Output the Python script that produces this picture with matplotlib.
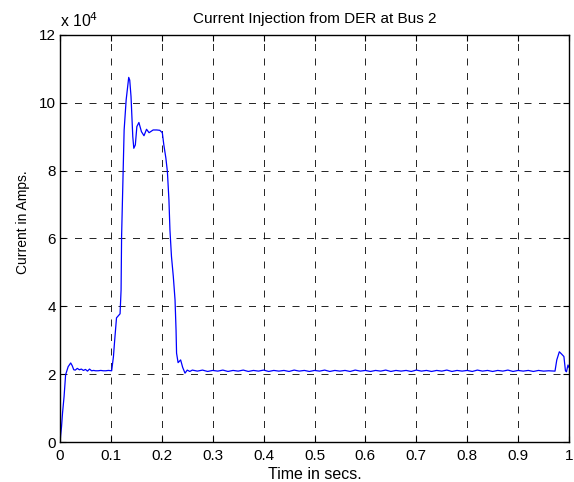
import numpy as np
import matplotlib.pyplot as plt

plt.rcParams['font.family'] = ['Liberation Sans', 'DejaVu Sans']

# time (s) and current (x 1e4 A)
t_start = [0.0, 0.003, 0.005, 0.008, 0.011, 0.016, 0.021, 0.024, 0.027, 0.030,
           0.034, 0.038, 0.042, 0.046, 0.050, 0.054, 0.058, 0.062, 0.066,
           0.070, 0.075, 0.080, 0.085, 0.090, 0.095, 0.1015]
i_start = [0.0, 0.45, 0.86, 1.34, 1.98, 2.22, 2.33, 2.25, 2.13, 2.12,
           2.17, 2.13, 2.15, 2.11, 2.14, 2.09, 2.15, 2.10, 2.11,
           2.10, 2.10, 2.11, 2.10, 2.10, 2.11, 2.10]

t_fault = [0.105, 0.107, 0.111, 0.118, 0.120, 0.121, 0.124, 0.126, 0.130,
           0.133, 0.135, 0.137, 0.1395, 0.143, 0.145, 0.148, 0.151, 0.155,
           0.160, 0.165, 0.170, 0.175, 0.179, 0.183, 0.190, 0.196, 0.201,
           0.204, 0.208, 0.211, 0.214, 0.216, 0.219, 0.2226, 0.226, 0.228,
           0.229, 0.232, 0.237, 0.241, 0.2456, 0.250]
i_fault = [2.52, 2.92, 3.66, 3.78, 4.48, 6.06, 7.88, 9.20, 10.09,
           10.48, 10.75, 10.67, 10.19, 9.00, 8.66, 8.76, 9.30, 9.42,
           9.15, 9.03, 9.22, 9.12, 9.16, 9.20, 9.20, 9.19, 9.12,
           8.76, 8.37, 7.97, 7.14, 6.25, 5.47, 4.88, 4.19, 3.30,
           2.62, 2.34, 2.42, 2.20, 2.03, 2.12]

t_steady = [0.255, 0.26, 0.27, 0.28, 0.29, 0.30, 0.31, 0.32, 0.33, 0.34,
            0.35, 0.36, 0.37, 0.38, 0.39, 0.40, 0.41, 0.42, 0.43, 0.44,
            0.45, 0.46, 0.47, 0.48, 0.49, 0.50, 0.51, 0.52, 0.53, 0.54,
            0.55, 0.56, 0.57, 0.58, 0.59, 0.60, 0.61, 0.62, 0.63, 0.64,
            0.65, 0.66, 0.67, 0.68, 0.69, 0.70, 0.71, 0.72, 0.73, 0.74,
            0.75, 0.76, 0.77, 0.78, 0.79, 0.80, 0.81, 0.82, 0.83, 0.84,
            0.85, 0.86, 0.87, 0.88, 0.89, 0.90, 0.91, 0.92, 0.93, 0.94,
            0.95, 0.96, 0.9725]
i_steady = [2.08, 2.12, 2.09, 2.12, 2.08, 2.11, 2.09, 2.12, 2.08, 2.11,
            2.09, 2.12, 2.08, 2.11, 2.09, 2.12, 2.08, 2.11, 2.09, 2.11,
            2.08, 2.12, 2.09, 2.11, 2.08, 2.11, 2.09, 2.12, 2.08, 2.11,
            2.09, 2.11, 2.08, 2.12, 2.09, 2.11, 2.08, 2.11, 2.09, 2.12,
            2.08, 2.11, 2.09, 2.11, 2.08, 2.12, 2.09, 2.11, 2.08, 2.11,
            2.09, 2.12, 2.08, 2.11, 2.09, 2.11, 2.08, 2.12, 2.09, 2.11,
            2.08, 2.11, 2.09, 2.12, 2.08, 2.11, 2.09, 2.11, 2.08, 2.11,
            2.09, 2.10, 2.09]

t_end = [0.976, 0.981, 0.985, 0.990, 0.993, 0.995, 0.998, 1.0]
i_end = [2.42, 2.66, 2.60, 2.52, 2.10, 2.07, 2.27, 2.20]

time = np.array(t_start + t_fault + t_steady + t_end)
current = np.array(i_start + i_fault + i_steady + i_end) * 1e4

xticks = [0, 0.1, 0.2, 0.3, 0.4, 0.5, 0.6, 0.7, 0.8, 0.9, 1]
xticklabels = ['0', '0.1', '0.2', '0.3', '0.4', '0.5', '0.6', '0.7', '0.8', '0.9', '1']
yticks = [0, 2, 4, 6, 8, 10, 12]

fig = plt.figure(figsize=(5.74, 4.82), dpi=100)
ax = fig.add_axes([60 / 574, 40 / 482, 509 / 574, 407 / 482])

ax.plot(time, current, color='#0000ff', linewidth=0.9)

ax.set_xlim(0, 1)
ax.set_ylim(0, 12e4)
ax.set_xticks(xticks)
ax.set_xticklabels(xticklabels)
ax.set_yticks([v * 1e4 for v in yticks])
ax.set_yticklabels([str(v) for v in yticks])
ax.tick_params(direction='in', top=True, right=True, labelsize=11, length=4, width=0.8)
ax.tick_params(axis='x', pad=5)
ax.tick_params(axis='y', pad=3)

ax.grid(True, color='black', linestyle=(0, (8.4, 9)), linewidth=0.6)
for s in ax.spines.values():
    s.set_linewidth(1.0)

ax.set_title('Current Injection from DER at Bus 2', fontsize=11, pad=9)
ax.set_xlabel('Time in secs.', fontsize=11.5, labelpad=3)
ax.set_ylabel('Current in Amps.', fontsize=10)
ax.yaxis.set_label_coords(-0.058, 0.54)
ax.text(0.0, 1.012, r'x 10$^{4}$', transform=ax.transAxes, fontsize=11.3, ha='left', va='bottom')

fig.savefig('out.png', dpi=100)
